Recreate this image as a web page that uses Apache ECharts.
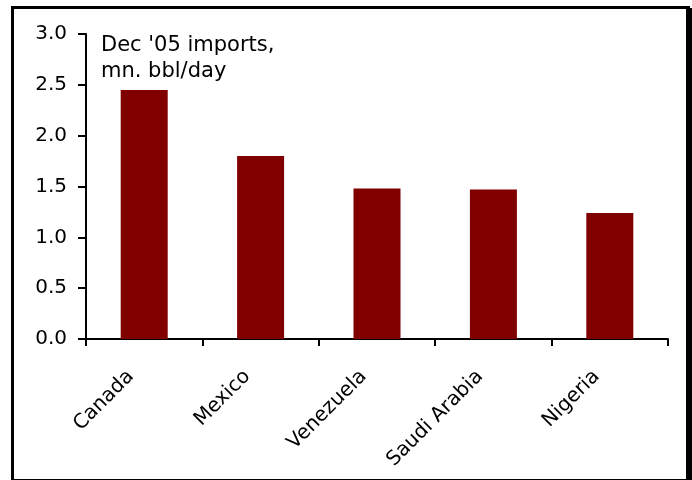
<!DOCTYPE html>
<html><head><meta charset="utf-8">
<script src="https://cdn.jsdelivr.net/npm/echarts@6/dist/echarts.min.js"></script>
<style>html,body{margin:0;padding:0;background:#fff}#c{width:692px;height:480px}</style>
</head><body><div id="c"></div>
<script>
const categories = ['Canada', 'Mexico', 'Venezuela', 'Saudi Arabia', 'Nigeria'];
const imports = [2.45, 1.80, 1.48, 1.47, 1.24];
const yTicks = [0, 0.5, 1.0, 1.5, 2.0, 2.5, 3.0];
const noteLines = ["Dec '05 imports,", 'mn. bbl/day'];

const FONT = 'DejaVu Sans';
const chart = echarts.init(document.getElementById('c'), null, {renderer: 'canvas'});
chart.setOption({
  animation: false,
  backgroundColor: '#fff',
  grid: {left: 86, right: 24, top: 34, bottom: 141},
  xAxis: {
    type: 'category', data: categories,
    axisLine: {lineStyle: {color: '#000', width: 2}},
    axisTick: {show: true, length: 7, lineStyle: {color: '#000', width: 2}},
    axisLabel: {rotate: 45, color: '#000', fontFamily: FONT, fontSize: 20, margin: 21,
      padding: [0, 19, 0, 0]}
  },
  yAxis: {
    type: 'value', min: yTicks[0], max: yTicks[yTicks.length - 1], interval: 0.5,
    splitLine: {show: false},
    axisLine: {show: true, lineStyle: {color: '#000', width: 2}},
    axisTick: {show: true, length: 8, lineStyle: {color: '#000', width: 2}},
    axisLabel: {color: '#000', fontFamily: FONT, fontSize: 20, margin: 19,
      formatter: v => v.toFixed(1)}
  },
  series: [{
    type: 'bar', data: imports, barWidth: 47,
    itemStyle: {color: '#800000'}
  }],
  graphic: [
    {type: 'rect', left: 10, top: 5, shape: {width: 676, height: 473},
      style: {fill: 'none', stroke: '#000', lineWidth: 3}, z: 100},
    {type: 'rect', left: 686, top: 8, shape: {width: 6, height: 472},
      style: {fill: '#000'}, z: 100},
    {type: 'text', left: 101, top: 33,
      style: {text: noteLines.join('\n'), font: '21px "DejaVu Sans"', fill: '#000', lineHeight: 26}}
  ]
});
</script></body></html>
